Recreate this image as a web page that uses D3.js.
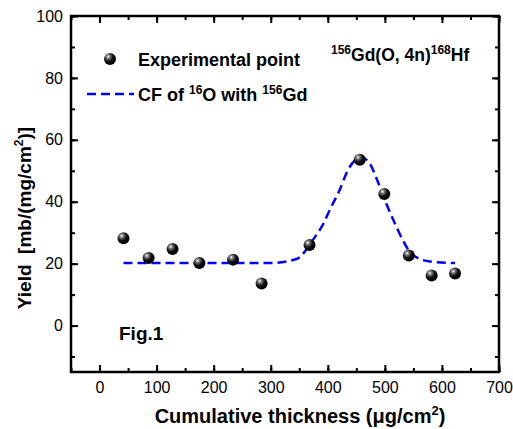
<!DOCTYPE html>
<html>
<head>
<meta charset="utf-8">
<script src="https://cdn.jsdelivr.net/npm/d3@7"></script>
<style>
  body { margin: 0; background: #fff; }
  svg { font-family: "Liberation Sans", Arial, sans-serif; }
  .tick text { font-size: 16px; fill: #000; }
</style>
</head>
<body>
<svg width="513" height="429"></svg>
<script>
// Experimental points
const thickness = [42, 86, 128, 175, 234, 284, 368, 456, 499, 542, 582, 623]
const yieldVals = [28.2, 21.8, 24.7, 20.2, 21.3, 13.6, 26.0, 53.6, 42.5, 22.6, 16.2, 16.8]

// CF curve
const cfX = [42, 100, 200, 300, 345, 377, 392, 404, 420, 436, 459, 474, 487, 503, 518, 532, 547, 579, 623]
const cfY = [20.2, 20.2, 20.2, 20.2, 21.5, 28.5, 32.8, 37.6, 43.5, 50.5, 54.3, 52.2, 46.8, 39.2, 32.8, 27.4, 23.1, 20.7, 20.2]

const xTicks = [0, 100, 200, 300, 400, 500, 600, 700]
const yTicks = [0, 20, 40, 60, 80, 100]

const svg = d3.select("svg")
const margin = {left: 71, right: 14, top: 16, bottom: 57}
const width = 513, height = 429

const x = d3.scaleLinear().domain([-50, 700]).range([margin.left, width - margin.right])
const y = d3.scaleLinear().domain([-15, 100]).range([height - margin.bottom, margin.top])

// gradient for the spheres
const defs = svg.append("defs")
const grad = defs.append("radialGradient").attr("id", "ball")
  .attr("cx", "35%").attr("cy", "30%").attr("r", "65%")
grad.append("stop").attr("offset", "0%").attr("stop-color", "#ffffff")
grad.append("stop").attr("offset", "25%").attr("stop-color", "#777")
grad.append("stop").attr("offset", "60%").attr("stop-color", "#111")
grad.append("stop").attr("offset", "100%").attr("stop-color", "#000")

// Axes (ticks pointing inward, on all four sides)
function drawAxis(axis, transform, labels) {
  const g = svg.append("g").attr("transform", transform).call(axis)
  g.select(".domain").remove()
  g.selectAll(".tick line").attr("stroke", "#000").attr("stroke-width", 2)
  if (!labels) g.selectAll(".tick text").remove()
  return g
}

const xMinor = d3.range(-50, 701, 50)
const yMinor = d3.range(-10, 101, 10)

const yb = height - margin.bottom, xr = width - margin.right

// minor ticks
drawAxis(d3.axisTop(x).tickValues(xMinor).tickSize(4).tickFormat(""), `translate(0,${yb})`, false)
drawAxis(d3.axisBottom(x).tickValues(xMinor).tickSize(4).tickFormat(""), `translate(0,${margin.top})`, false)
drawAxis(d3.axisRight(y).tickValues(yMinor).tickSize(4).tickFormat(""), `translate(${margin.left},0)`, false)
drawAxis(d3.axisLeft(y).tickValues(yMinor).tickSize(4).tickFormat(""), `translate(${xr},0)`, false)

// major ticks
const bx = drawAxis(d3.axisTop(x).tickValues(xTicks).tickSize(7), `translate(0,${yb})`, true)
bx.selectAll(".tick text").attr("y", 21).attr("dy", null)
drawAxis(d3.axisBottom(x).tickValues(xTicks).tickSize(7), `translate(0,${margin.top})`, false)
const ly = drawAxis(d3.axisRight(y).tickValues(yTicks).tickSize(7), `translate(${margin.left},0)`, true)
ly.selectAll(".tick text").attr("x", -8).attr("text-anchor", "end")
drawAxis(d3.axisLeft(y).tickValues(yTicks).tickSize(7), `translate(${xr},0)`, false)

// frame
svg.append("rect")
  .attr("x", margin.left).attr("y", margin.top)
  .attr("width", xr - margin.left).attr("height", yb - margin.top)
  .attr("fill", "none").attr("stroke", "#000").attr("stroke-width", 2.5)

// CF curve
const line = d3.line().x((d, i) => x(cfX[i])).y(d => y(d)).curve(d3.curveMonotoneX)
svg.append("path")
  .attr("d", line(cfY))
  .attr("fill", "none").attr("stroke", "#0000ff")
  .attr("stroke-width", 2.5).attr("stroke-dasharray", "9,5")

// points
svg.append("g").selectAll("circle")
  .data(yieldVals)
  .enter()
  .append("circle")
  .attr("cx", (d, i) => x(thickness[i]))
  .attr("cy", d => y(d))
  .attr("r", 6)
  .attr("fill", "url(#ball)")

// legend
svg.append("circle").attr("cx", 110).attr("cy", 59).attr("r", 6).attr("fill", "url(#ball)")
svg.append("text").attr("x", 138).attr("y", 66)
  .attr("font-size", 18).attr("font-weight", "bold").text("Experimental point")
svg.append("line").attr("x1", 87).attr("x2", 134).attr("y1", 94).attr("y2", 94)
  .attr("stroke", "#0000ff").attr("stroke-width", 2.5).attr("stroke-dasharray", "9,5")
const leg2 = svg.append("text").attr("x", 138).attr("y", 101)
  .attr("font-size", 18).attr("font-weight", "bold")
leg2.append("tspan").text("CF of ")
leg2.append("tspan").attr("font-size", 12).attr("dy", -7).text("16")
leg2.append("tspan").attr("dy", 7).text("O with ")
leg2.append("tspan").attr("font-size", 12).attr("dy", -7).text("156")
leg2.append("tspan").attr("dy", 7).text("Gd")

// reaction label
const react = svg.append("text").attr("x", 331).attr("y", 61)
  .attr("font-size", 17.5).attr("font-weight", "bold")
react.append("tspan").attr("font-size", 12).attr("dy", -7).text("156")
react.append("tspan").attr("dy", 7).text("Gd(O, 4n)")
react.append("tspan").attr("font-size", 12).attr("dy", -7).text("168")
react.append("tspan").attr("dy", 7).text("Hf")

svg.append("text").attr("x", 119).attr("y", 340)
  .attr("font-size", 19).attr("font-weight", "bold").text("Fig.1")

// axis titles
const xt = svg.append("text").attr("x", 300).attr("y", 423).attr("text-anchor", "middle")
  .attr("font-size", 20).attr("font-weight", "bold")
xt.append("tspan").text("Cumulative thickness (\u03bcg/cm")
xt.append("tspan").attr("font-size", 13).attr("dy", -8).text("2")
xt.append("tspan").attr("dy", 8).text(")")

const yt = svg.append("text").attr("transform", "translate(31,218) rotate(-90)")
  .attr("text-anchor", "middle").attr("font-size", 19).attr("font-weight", "bold")
  .attr("xml:space", "preserve")
yt.append("tspan").text("Yield  [mb/(mg/cm")
yt.append("tspan").attr("font-size", 12).attr("dy", -8).text("2")
yt.append("tspan").attr("dy", 8).text(")]")
</script>
</body>
</html>
